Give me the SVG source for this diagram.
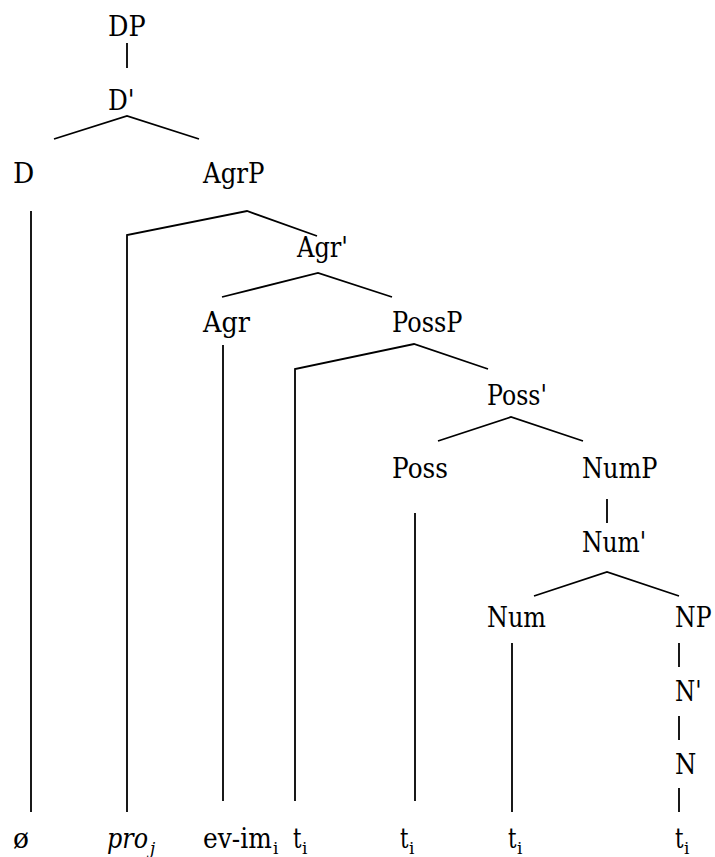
<svg xmlns="http://www.w3.org/2000/svg" width="715" height="857" viewBox="0 0 715 857">
<style>
text{font-family:"DejaVu Serif",serif;font-size:27px;fill:#000}
.sub{font-size:17px}
.it{font-style:italic}
#connectors path{fill:none;stroke:#000;stroke-width:1.8;stroke-linejoin:miter}
</style>
<rect width="715" height="857" fill="#fff"/>
<g id="connectors">
<path d="M127 43V68"/>
<path d="M54 139L127 116L199 139"/>
<path d="M31 211V812"/>
<path d="M127 812V235L247 211L317 236"/>
<path d="M222 297L318 273L392 297"/>
<path d="M223 345V801"/>
<path d="M295 801V369L414 344L488 369"/>
<path d="M438 441L511 417L583 441"/>
<path d="M415 513V801"/>
<path d="M607 499V523"/>
<path d="M534 596L607 572L679 596"/>
<path d="M512 643V812"/>
<path d="M679 643V667"/>
<path d="M679 716V740"/>
<path d="M679 788V812"/>
</g>
<g id="n-DP"><text x="108" y="36" textLength="37.7" lengthAdjust="spacingAndGlyphs">DP</text></g>
<g id="n-Dbar"><text x="108" y="110" textLength="26.6" lengthAdjust="spacingAndGlyphs">D'</text></g>
<g id="n-D"><text x="13" y="183" textLength="21.3" lengthAdjust="spacingAndGlyphs">D</text></g>
<g id="n-AgrP"><text x="203" y="183" textLength="61.5" lengthAdjust="spacingAndGlyphs">AgrP</text></g>
<g id="n-Agrbar"><text x="297" y="257" textLength="51" lengthAdjust="spacingAndGlyphs">Agr'</text></g>
<g id="n-Agr"><text x="203" y="332" textLength="47" lengthAdjust="spacingAndGlyphs">Agr</text></g>
<g id="n-PossP"><text x="392" y="332" textLength="70.5" lengthAdjust="spacingAndGlyphs">PossP</text></g>
<g id="n-Possbar"><text x="487" y="405" textLength="60" lengthAdjust="spacingAndGlyphs">Poss'</text></g>
<g id="n-Poss"><text x="392" y="478" textLength="56" lengthAdjust="spacingAndGlyphs">Poss</text></g>
<g id="n-NumP"><text x="582" y="478" textLength="75.5" lengthAdjust="spacingAndGlyphs">NumP</text></g>
<g id="n-Numbar"><text x="582" y="552" textLength="64.3" lengthAdjust="spacingAndGlyphs">Num'</text></g>
<g id="n-Num"><text x="487" y="627" textLength="59" lengthAdjust="spacingAndGlyphs">Num</text></g>
<g id="n-NP"><text x="675" y="627" textLength="36.5" lengthAdjust="spacingAndGlyphs">NP</text></g>
<g id="n-Nbar"><text x="675" y="701" textLength="26.6" lengthAdjust="spacingAndGlyphs">N'</text></g>
<g id="n-N"><text x="675" y="774" textLength="21.3" lengthAdjust="spacingAndGlyphs">N</text></g>
<g id="leaf-null"><text x="13" y="848" textLength="16" lengthAdjust="spacingAndGlyphs">ø</text></g>
<g id="leaf-pro"><text class="it" x="107" y="848" textLength="41" lengthAdjust="spacingAndGlyphs">pro</text><text class="it sub" x="150" y="854">j</text></g>
<g id="leaf-evim"><text x="203" y="848" textLength="68.8" lengthAdjust="spacingAndGlyphs">ev-im</text><text class="sub" x="273" y="854">i</text></g>
<g id="leaf-t1"><text x="293" y="848" textLength="8.5" lengthAdjust="spacingAndGlyphs">t</text><text class="sub" x="302" y="854">i</text></g>
<g id="leaf-t2"><text x="400" y="848" textLength="8.5" lengthAdjust="spacingAndGlyphs">t</text><text class="sub" x="409" y="854">i</text></g>
<g id="leaf-t3"><text x="508" y="848" textLength="8.5" lengthAdjust="spacingAndGlyphs">t</text><text class="sub" x="517" y="854">i</text></g>
<g id="leaf-t4"><text x="675" y="848" textLength="8.5" lengthAdjust="spacingAndGlyphs">t</text><text class="sub" x="684" y="854">i</text></g>
</svg>
